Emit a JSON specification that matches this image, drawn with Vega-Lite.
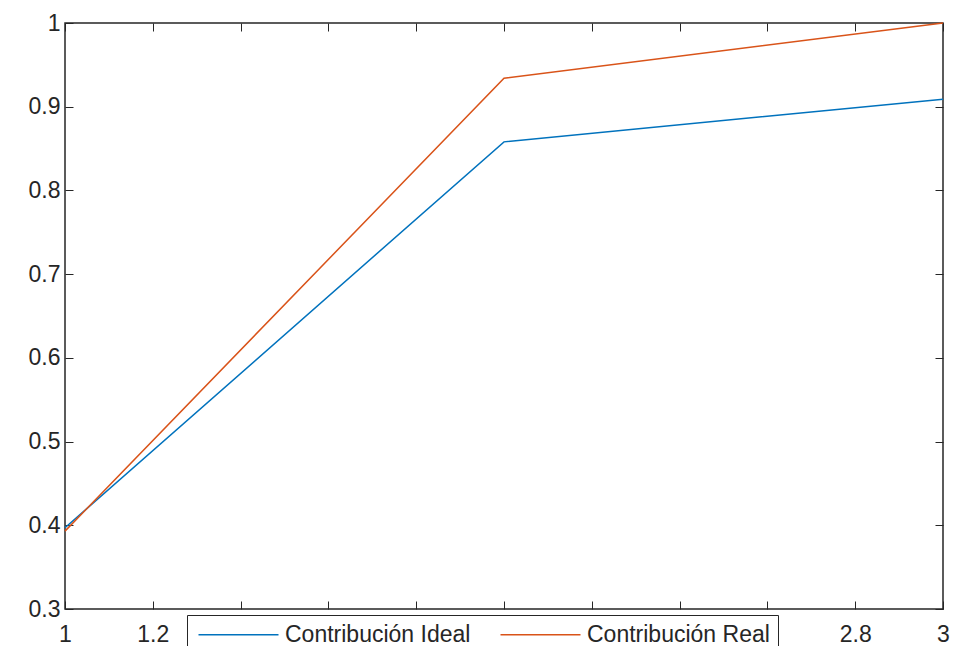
{
  "$schema": "https://vega.github.io/schema/vega-lite/v6.json",
  "width": 878,
  "height": 586,
  "autosize": {"type": "none"},
  "padding": {"left": 65, "top": 23, "right": 10, "bottom": 37},
  "background": "white",
  "config": {
    "font": "Liberation Sans",
    "view": {"stroke": "#262626", "strokeWidth": 1.5}
  },
  "data": {
    "values": [
      {"x": 1, "y": 0.397, "serie": "Contribución Ideal"},
      {"x": 2, "y": 0.858, "serie": "Contribución Ideal"},
      {"x": 3, "y": 0.909, "serie": "Contribución Ideal"},
      {"x": 1, "y": 0.393, "serie": "Contribución Real"},
      {"x": 2, "y": 0.934, "serie": "Contribución Real"},
      {"x": 3, "y": 1.0, "serie": "Contribución Real"}
    ]
  },
  "resolve": {"axis": {"x": "independent", "y": "independent"}},
  "layer": [
    {
      "mark": {"type": "line", "strokeWidth": 1.5},
      "encoding": {
        "x": {
          "field": "x", "type": "quantitative",
          "scale": {"domain": [1, 3], "nice": false, "zero": false},
          "axis": {
            "title": null, "grid": false, "values": [1, 1.2, 1.4, 1.6, 1.8, 2, 2.2, 2.4, 2.6, 2.8, 3],
            "format": "~g",
            "labelExpr": "datum.value > 1.3 && datum.value < 2.7 ? '' : datum.label",
            "tickSize": -8, "tickColor": "#262626", "domain": false,
            "labelFontSize": 23, "labelColor": "#262626", "labelPadding": 22,
            "labelFlush": false, "labelOverlap": false
          }
        },
        "y": {
          "field": "y", "type": "quantitative",
          "scale": {"domain": [0.3, 1], "nice": false, "zero": false},
          "axis": {
            "title": null, "grid": false, "values": [0.3, 0.4, 0.5, 0.6, 0.7, 0.8, 0.9, 1],
            "format": "~g",
            "tickSize": -8, "tickColor": "#262626", "domain": false,
            "labelFontSize": 23, "labelColor": "#262626", "labelPadding": 13,
            "labelFlush": false, "labelOverlap": false
          }
        },
        "color": {
          "field": "serie", "type": "nominal",
          "scale": {"domain": ["Contribución Ideal", "Contribución Real"], "range": ["#0072BD", "#D95319"]},
          "legend": {
            "title": null, "orient": "none", "direction": "horizontal",
            "legendX": 122, "legendY": 592,
            "symbolType": "M-5,0H5", "symbolSize": 256, "symbolStrokeWidth": 1.5,
            "symbolOffset": 32, "labelOffset": 35,
            "labelFontSize": 23, "labelColor": "#262626", "labelLimit": 400,
            "fillColor": "white", "strokeColor": "#262626", "padding": 8,
            "columnPadding": 26
          }
        }
      }
    },
    {
      "mark": {"type": "line", "opacity": 0},
      "encoding": {
        "x": {
          "field": "x", "type": "quantitative",
          "axis": {
            "orient": "top", "title": null, "grid": false, "labels": false, "domain": false,
            "values": [1, 1.2, 1.4, 1.6, 1.8, 2, 2.2, 2.4, 2.6, 2.8, 3],
            "tickSize": -8, "tickColor": "#262626"
          }
        },
        "y": {
          "field": "y", "type": "quantitative",
          "axis": {
            "orient": "right", "title": null, "grid": false, "labels": false, "domain": false,
            "values": [0.3, 0.4, 0.5, 0.6, 0.7, 0.8, 0.9, 1],
            "tickSize": -8, "tickColor": "#262626"
          }
        },
        "detail": {"field": "serie"}
      }
    }
  ]
}
